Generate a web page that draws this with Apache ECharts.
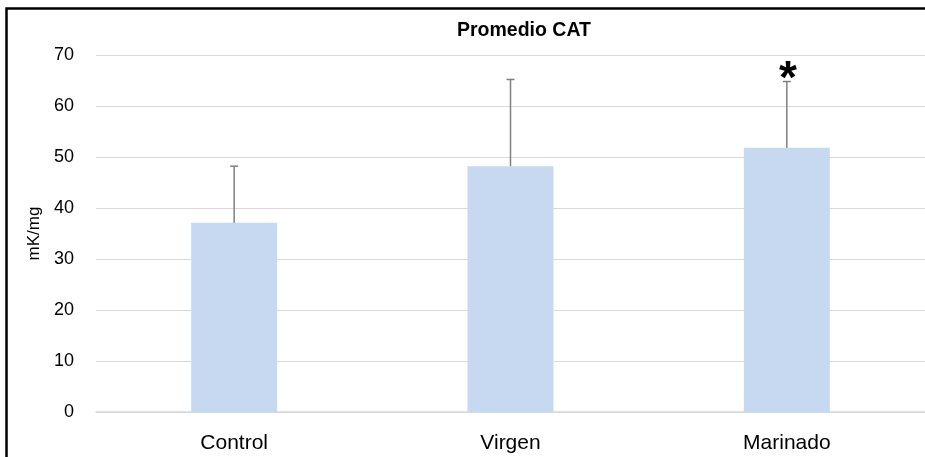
<!DOCTYPE html>
<html>
<head>
<meta charset="utf-8">
<script src="https://cdn.jsdelivr.net/npm/echarts@6/dist/echarts.min.js"></script>
<style>
  html, body { margin: 0; padding: 0; background: #fff; }
  #chart { width: 925px; height: 457px; }
</style>
</head>
<body>
<div id="chart"></div>
<script>
// Mean CAT activity per group, with standard deviation and significance marks
const categories = ['Control', 'Virgen', 'Marinado'];
const means = [37.1, 48.2, 51.8];
const sds = [11.1, 17.0, 13.0];
const marks = ['', '', '*'];
const yTicks = { min: 0, max: 70, interval: 10 };

const chart = echarts.init(document.getElementById('chart'));

const errorData = categories.map((c, i) => [i, means[i], means[i] + sds[i], marks[i]]);

chart.setOption({
  animation: false,
  textStyle: { fontFamily: 'Liberation Sans, Arial, sans-serif' },
  title: {
    text: 'Promedio CAT',
    left: 519,
    top: 16,
    textAlign: 'center',
    textStyle: { fontSize: 19.5, fontWeight: 'bold', color: '#000' }
  },
  graphic: [{
    type: 'rect',
    left: 4,
    top: 6,
    shape: { x: 0, y: 0, width: 960, height: 480 },
    style: { fill: 'none', stroke: '#000', lineWidth: 2.5 },
    silent: true,
    z: 100
  }],
  grid: { left: 96, right: -2, top: 55, bottom: 45 },
  xAxis: {
    type: 'category',
    data: categories,
    axisLine: { lineStyle: { color: '#d9d9d9', width: 1.5 } },
    axisTick: { show: false },
    axisLabel: { fontSize: 21, color: '#000', margin: 21 }
  },
  yAxis: {
    type: 'value',
    min: yTicks.min,
    max: yTicks.max,
    interval: yTicks.interval,
    name: 'mK/mg',
    nameLocation: 'middle',
    nameGap: 47,
    nameTextStyle: { fontSize: 17, color: '#000' },
    axisLine: { show: false },
    axisTick: { show: false },
    axisLabel: { fontSize: 18, color: '#000', margin: 22 },
    splitLine: { lineStyle: { color: '#d9d9d9', width: 1.2 } }
  },
  series: [
    {
      type: 'bar',
      data: means,
      barWidth: 86,
      itemStyle: { color: '#c7d9f1' },
      z: 2
    },
    {
      type: 'custom',
      data: errorData,
      z: 3,
      renderItem: function (params, api) {
        const x = api.value(0);
        const lo = api.coord([x, api.value(1)]);
        const hi = api.coord([x, api.value(2)]);
        const cap = 4;
        const style = { stroke: '#7f7f7f', lineWidth: 1.5 };
        const children = [
          { type: 'line', shape: { x1: lo[0], y1: lo[1], x2: hi[0], y2: hi[1] }, style: style },
          { type: 'line', shape: { x1: hi[0] - cap, y1: hi[1], x2: hi[0] + cap, y2: hi[1] }, style: style }
        ];
        const mark = api.value(3);
        if (mark) {
          children.push({
            type: 'text',
            style: {
              text: mark,
              x: hi[0] + 1,
              y: hi[1] - 1,
              align: 'center',
              verticalAlign: 'middle',
              fontSize: 46,
              fontWeight: 'bold',
              fill: '#000',
              fontFamily: 'Liberation Sans, Arial, sans-serif'
            }
          });
        }
        return { type: 'group', children: children };
      }
    }
  ]
});
</script>
</body>
</html>
